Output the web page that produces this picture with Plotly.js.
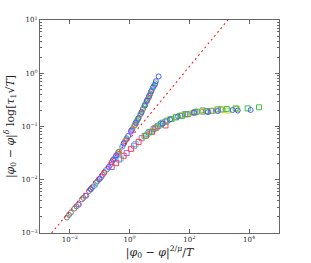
<!DOCTYPE html>
<html>
<head>
<meta charset="utf-8">
<script src="https://cdn.plot.ly/plotly-3.0.1.min.js"></script>
<style>html,body{margin:0;padding:0;background:#fff;}#chart{width:311px;height:263px;}</style>
</head>
<body>
<div id="chart"></div>
<script>
// Reference fit line (red dashed), two end points
const fitX = [0.00245, 1950];
const fitY = [0.001, 10];

// gray series
const grayCircX = [7.94e-3, 9.33e-3, 1.072e-2, 1.413e-2, 1.66e-2, 1.905e-2, 2.512e-2, 2.818e-2, 3.311e-2, 4.365e-2, 5.012e-2, 5.623e-2, 7.413e-2, 8.318e-2, 9.55e-2, 0.1259];
const grayCircY = [1.95e-3, 2.188e-3, 2.40e-3, 2.88e-3, 3.162e-3, 3.47e-3, 4.27e-3, 4.571e-3, 5.01e-3, 6.17e-3, 6.761e-3, 7.24e-3, 8.71e-3, 9.333e-3, 1.023e-2, 1.23e-2];
const graySqX = [50.12, 89.1, 158.5, 281.8, 354.8, 562.3, 1122];
const graySqY = [0.1585, 0.170, 0.186, 0.200, 0.195, 0.195, 0.209];

// purple series
const purpCircX = [1.995e-2, 3.548e-2, 6.31e-2, 0.1122, 0.1413, 0.1778, 0.2239, 0.2818, 0.3388, 0.3981, 0.5623, 0.6607, 0.7943, 1.122, 1.66];
const purpCircY = [3.39e-3, 5.01e-3, 7.59e-3, 1.122e-2, 1.349e-2, 1.585e-2, 1.905e-2, 2.344e-2, 2.692e-2, 3.02e-2, 4.169e-2, 4.898e-2, 5.754e-2, 7.943e-2, 0.1148];
const purpSqX = [0.2512, 0.4467, 0.7943, 1.413, 2.512, 4.467, 6.31, 8.913, 12.59, 17.78, 35.48, 70.79, 141.3, 281.8, 524.8];
const purpSqY = [1.738e-2, 2.399e-2, 3.162e-2, 4.365e-2, 6.026e-2, 7.762e-2, 8.913e-2, 0.1023, 0.1175, 0.1288, 0.1514, 0.170, 0.182, 0.1905, 0.195];

// cyan series
const cyanCircX = [7.079e-2, 0.1585, 0.3162, 0.6026, 1.259, 1.778, 2.512, 3.548];
const cyanCircY = [7.943e-3, 1.514e-2, 2.512e-2, 4.365e-2, 9.12e-2, 0.1259, 0.1905, 0.2818];
const cyanSqX = [0.5012, 1.585, 3.981, 10, 25.12];
const cyanSqY = [2.512e-2, 4.677e-2, 7.244e-2, 0.1047, 0.138];

// yellow series
const yelSqX = [22.39, 35.48, 56.23, 125.9, 281.8, 631, 1259, 1995, 3981];
const yelSqY = [0.138, 0.1514, 0.1622, 0.1778, 0.195, 0.1995, 0.2042, 0.1995, 0.2138];

// red series
const redCircX = [0.1413, 0.2512, 0.4169, 0.7079, 1.202, 1.514, 1.905, 2.399, 2.818, 3.311, 3.802, 4.365, 5.012];
const redCircY = [1.38e-2, 2.138e-2, 3.311e-2, 5.37e-2, 8.71e-2, 0.1072, 0.138, 0.1738, 0.2138, 0.2512, 0.302, 0.3467, 0.4169];
const redSqX = [0.3548, 0.631, 1.122, 1.995, 3.548, 5.623, 7.943, 15.85];
const redSqY = [2.042e-2, 2.818e-2, 3.802e-2, 5.129e-2, 6.761e-2, 7.943e-2, 9.55e-2, 0.1047];

// green series
const grnCircX = [0.4467, 0.7943, 1.413, 1.778, 2.239, 2.818, 3.311, 3.981, 4.786, 5.495, 6.31, 7.244];
const grnCircY = [3.388e-2, 6.026e-2, 0.1023, 0.1318, 0.166, 0.2188, 0.263, 0.3236, 0.3981, 0.4786, 0.5623, 0.6457];
const grnSqX = [3.162, 5.012, 7.079, 11.22, 15.85, 25.12, 35.48, 56.23, 79.43, 177.8, 398.1, 891.3, 1778, 3548, 8913, 21380];
const grnSqY = [6.607e-2, 7.943e-2, 9.333e-2, 0.1122, 0.123, 0.138, 0.1479, 0.1585, 0.170, 0.1905, 0.195, 0.2089, 0.2138, 0.2188, 0.2188, 0.2291];

// blue series
const bluCircX = [5.012e-2, 0.1, 0.1995, 0.2818, 0.3548, 0.631, 0.8913, 1.122, 1.585, 1.995, 2.512, 3.162, 3.802, 4.467, 5.248, 6.026, 6.918, 7.586, 9.333,
                  12.59, 22.39, 41.69, 141.3, 416.9, 891.3, 2818, 4169, 11220];
const bluCircY = [6.607e-3, 1.047e-2, 1.738e-2, 2.399e-2, 2.884e-2, 4.786e-2, 6.607e-2, 8.318e-2, 0.1175, 0.1445, 0.1862, 0.2455, 0.309, 0.3715, 0.4571, 0.537, 0.6026, 0.7079, 0.871,
                  0.1122, 0.1349, 0.1549, 0.182, 0.1862, 0.195, 0.2042, 0.1995, 0.2042];

// tick labels
const xTickVals = [1e-2, 1, 1e2, 1e4];
const xTickText = ['10<sup>−2</sup>', '10<sup>0</sup>', '10<sup>2</sup>', '10<sup>4</sup>'];
const yTickVals = [1e-3, 1e-2, 1e-1, 1, 10];
const yTickText = ['10<sup>−3</sup>', '10<sup>−2</sup>', '10<sup>−1</sup>', '10<sup>0</sup>', '10<sup>1</sup>'];

const C = {gray:'#7a7a7a', purp:'#a060f0', cyan:'#40d8d8', yel:'#b8d820', red:'#ff4040', grn:'#40c040', blu:'#4a5cff'};

function pts(x, y, color, sym) {
  return {x: x, y: y, type: 'scatter', mode: 'markers', hoverinfo: 'skip',
    marker: {symbol: sym, size: 5, color: color, line: {width: 1, color: color}}};
}

const traces = [
  pts(grayCircX, grayCircY, C.gray, 'circle-open'),
  pts(graySqX, graySqY, C.gray, 'square-open'),
  pts(purpCircX, purpCircY, C.purp, 'circle-open'),
  pts(purpSqX, purpSqY, C.purp, 'square-open'),
  pts(cyanCircX, cyanCircY, C.cyan, 'circle-open'),
  pts(cyanSqX, cyanSqY, C.cyan, 'square-open'),
  pts(yelSqX, yelSqY, C.yel, 'square-open'),
  pts(redCircX, redCircY, C.red, 'circle-open'),
  pts(redSqX, redSqY, C.red, 'square-open'),
  pts(grnCircX, grnCircY, C.grn, 'circle-open'),
  pts(grnSqX, grnSqY, C.grn, 'square-open'),
  pts(bluCircX, bluCircY, C.blu, 'circle-open'),
  {x: fitX, y: fitY, type: 'scatter', mode: 'lines', hoverinfo: 'skip',
   line: {color: '#ff2020', width: 1.1, dash: '2px,3px'}}
];

const yMinor = [];
for (let e = -3; e < 1; e++) for (let k = 2; k <= 9; k++) yMinor.push(k * Math.pow(10, e));

const axisCommon = {
  type: 'log', showgrid: false, zeroline: false, showline: true,
  linecolor: '#666', linewidth: 1, mirror: 'ticks', ticks: 'inside',
  ticklen: 4, tickcolor: '#666', tickwidth: 1,
  tickfont: {family: 'DejaVu Serif', size: 7, color: '#222'}
};

const layout = {
  width: 311, height: 263,
  margin: {l: 40, r: 32, t: 20, b: 30},
  paper_bgcolor: '#fff', plot_bgcolor: '#fff',
  showlegend: false,
  xaxis: Object.assign({}, axisCommon, {
    range: [-3, 5], tickmode: 'array', tickvals: xTickVals, ticktext: xTickText,
    title: {text: '|<i>φ</i><sub>0</sub> − <i>φ</i>|<sup>2/<i>μ</i></sup>/<i>T</i>', standoff: 2,
      font: {family: 'DejaVu Serif', size: 11, color: '#222'}}
  }),
  yaxis: Object.assign({}, axisCommon, {
    range: [-3, 1], tickmode: 'array', tickvals: yTickVals, ticktext: yTickText,
    minor: {tickvals: yMinor, ticks: 'inside', ticklen: 2, tickcolor: '#666', showgrid: false},
    title: {text: '|<i>φ</i><sub>0</sub> − <i>φ</i>|<sup><i>δ</i></sup> log[<i>τ</i><sub>1</sub>√<i>T</i>]', standoff: 4,
      font: {family: 'DejaVu Serif', size: 11, color: '#222'}}
  })
};

Plotly.newPlot('chart', traces, layout, {staticPlot: true, displayModeBar: false});
</script>
</body>
</html>
